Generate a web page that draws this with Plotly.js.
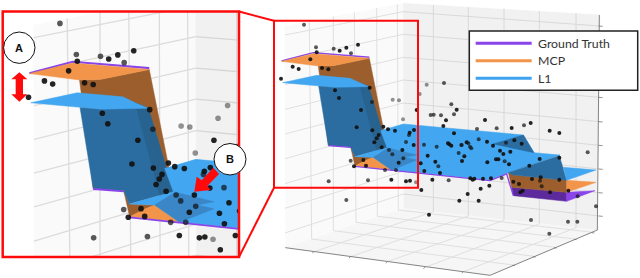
<!DOCTYPE html>
<html>
<head>
<meta charset="utf-8">
<script src="https://cdn.plot.ly/plotly-3.0.0.min.js"></script>
<style>html,body{margin:0;padding:0;background:#fff}#chart{width:640px;height:278px}</style>
</head>
<body>
<div id="chart"></div>
<script>
const darkX = [170,239,259,294,151,98,116,63,186,205,225,237,329,337,290,370,384,405,356,350,343,365,303,449,462,470,590,558,550,582,461,427,416,482,503,526,493,540,564,568,574,613,606,620,681,699,682,708,715,720,730,751,747,785,763,808,839,898,631,638,643,669,693,760,777,816,842,898,925,870,781,788,623,662,688,598,656,394,438,450,517,484,507,282,310,318,675,755,812,869,898];
const darkY = [157,152,143,134,178,200,207,236,204,208,271,294,263,391,382,380,388,392,405,415,427,442,330,398,390,330,329,361,378,400,435,450,488,490,467,485,513,519,430,433,437,469,483,427,425,437,487,478,478,452,462,455,493,431,421,497,477,473,535,539,536,536,535,545,552,537,532,539,572,577,577,572,582,566,557,602,602,539,544,542,539,570,644,499,480,497,360,384,369,392,399];
const midX = [132,168,221,273,336,512,521,543,574,582,552,651,710,792,447,438,492,530,387,397,430,375,408,535,604,625,630,656,596,605,634,738,734,725,840,845,953,983,1008,813,924,952,868,206,324,259,272,566];
const midY = [74,142,146,160,306,345,344,346,313,343,249,387,385,376,405,426,434,440,450,463,475,510,510,499,435,430,440,418,459,435,445,428,484,534,542,559,589,457,619,660,665,665,701,544,541,600,482,541];
const lightX = [398,417,479,500,429,468];
const lightY = [299,301,282,254,358,547];

// Fitted surfaces, outlines in the same plane
const gtTopX = [65,160,328], gtTopY = [183,158,172];
const gtStepX = [205,272], gtStepY = [437,442];
const gtFrontX = [284,395,470,690,742], gtFrontY = [499,511,518,542,521];
const gtWallX = [755,920,920,760], gtWallY = [562,577,604,587];
const gtFlatX = [920,1005,920], gtFlatY = [577,572,604];
const gtEdgeX = [740,760], gtEdgeY = [522,587];

const mcpTopX = [65,160,328,220,175], mcpTopY = [184,161,175,197,198];
const mcpWallX = [175,220,328,370,385,205], mcpWallY = [198,197,175,385,445,436];
const mcpStepX = [272,284,340,320,285], mcpStepY = [441,470,472,480,498];
const mcpLowX = [285,395,340,320], mcpLowY = [498,510,472,480];
const mcpRWallX = [745,760,920,920,755], mcpRWallY = [517,525,541,577,562];
const mcpRFlatX = [920,1008,920], mcpRFlatY = [541,547,577];

const l1TopX = [68,170,270,297,326,223,176], l1TopY = [248,226,235,248,260,262,258];
const l1WallX = [176,223,297,326,381,284,272,205], l1WallY = [258,262,248,260,443,470,441,436];
const l1FaceX = [297,326,381,352], l1FaceY = [248,260,443,455];
const l1SheetX = [362,430,790,822,900,745,690,470,395,340,284,381];
const l1SheetY = [392,372,405,458,465,518,540,517,510,472,470,443];
const l1FoldX = [340,385,470,433,470,395], l1FoldY = [472,444,465,472,480,510];
const l1Wall2X = [700,790,822], l1Wall2Y = [432,405,458];
const l1Wall3X = [745,898,920,760], l1Wall3Y = [518,467,541,525];
const l1RFlatX = [910,1008,920], l1RFlatY = [502,510,541];

// Box of the 3D axes
const leftWallX = [74,430,432,76], leftWallY = [78,10,625,743];
const rightWallX = [430,1020,1012,432], rightWallY = [10,45,690,625];
const floorX = [76,432,1012,690], floorY = [743,625,690,826];
const gridLeftEdge = [105,179,254,328,402,476,551,625,699];
const gridCorner = [35,103,172,240,309,377,445,514,582];
const gridRightEdge = [78,150,221,292,365,436,507,578,648];
const wallVertTopX = [148,220,283,350,412], wallVertTopY = [63,49,37,24,13];
const wallVertBotX = [155,220,288,352,415], wallVertBotY = [717,692,667,649,630];
const rightVertX = [520,625,732,838,948];
const rightVertTopY = [15,21,26,33,39], rightVertBotY = [635,648,661,672,683];
const frontTickX = [162,272,382,495,610], frontTickY = [755,770,785,802,815];
const sideTickX = [760,822,885,945,998], sideTickY = [795,769,742,717,697];

const legendNames = ['Ground Truth','MCP','L1'];
const legendColors = ['#8a45ea','#f2944a','#3fa2ee'];
const legendRows = [130,182,235];

const PURPLE='#8a45ea', DPURPLE='#5c2a9c', ORANGE='#f2944a', BROWN='#9b5e2c', BLUE='#42a6f0', DBLUE='#2b6ca1', DDBLUE='#28628f', FOLD='#3a86c6';
const GRID='#dcdcdc', GRID2='#d6d6d6';

function poly(x,y,color){return {x:x.concat(x[0]),y:y.concat(y[0]),mode:'lines',fill:'toself',fillcolor:color,line:{color:color,width:0.5},showlegend:false,hoverinfo:'skip'};}
function seg(x,y,color,w){return {x:x,y:y,mode:'lines',line:{color:color,width:w},showlegend:false,hoverinfo:'skip'};}
function pts(x,y,op,size){return {x:x,y:y,mode:'markers',marker:{color:'#111',opacity:op,size:size,line:{width:0}},showlegend:false,hoverinfo:'skip'};}

function scene(xa,ya,k,size){
  const t=[];
  t.push(poly(leftWallX,leftWallY,'#fafafa'),poly(rightWallX,rightWallY,'#f1f1f1'),poly(floorX,floorY,'#f6f6f6'));
  gridCorner.forEach((c,i)=>{
    t.push(seg([75,430],[gridLeftEdge[i],c],GRID,k));
    t.push(seg([430,1018],[c,gridRightEdge[i]],GRID2,k));
    t.push(seg([1016,1028],[gridRightEdge[i],gridRightEdge[i]+1],'#777',0.8));
  });
  wallVertTopX.forEach((v,i)=>{
    t.push(seg([v,wallVertBotX[i]],[wallVertTopY[i],wallVertBotY[i]],GRID,k));
    t.push(seg([wallVertBotX[i],sideTickX[i]],[wallVertBotY[i],sideTickY[i]],GRID,k));
    t.push(seg([sideTickX[i]-3,sideTickX[i]+5],[sideTickY[i]+1,sideTickY[i]+2],'#777',0.8));
  });
  rightVertX.forEach((v,i)=>{
    t.push(seg([v,v],[rightVertTopY[i],rightVertBotY[i]],GRID2,k));
    t.push(seg([v,frontTickX[i]],[rightVertBotY[i],frontTickY[i]],GRID,k));
    t.push(seg([frontTickX[i],frontTickX[i]-5],[frontTickY[i],frontTickY[i]+4],'#777',0.8));
  });
  t.push(seg([76,690,1012,1018],[743,826,690,45],'#777',k));
  t.push(poly(gtWallX,gtWallY,DPURPLE),poly(gtFlatX,gtFlatY,PURPLE),seg(gtEdgeX,gtEdgeY,PURPLE,1.5*k));
  t.push(seg(gtTopX,gtTopY,PURPLE,1.6*k));
  t.push(poly(mcpWallX,mcpWallY,BROWN),poly(mcpTopX,mcpTopY,ORANGE));
  t.push(poly(mcpStepX,mcpStepY,BROWN),poly(mcpLowX,mcpLowY,ORANGE));
  t.push(poly(mcpRWallX,mcpRWallY,BROWN),poly(mcpRFlatX,mcpRFlatY,ORANGE));
  t.push(poly(l1WallX,l1WallY,DBLUE),poly(l1FaceX,l1FaceY,DDBLUE),poly(l1TopX,l1TopY,BLUE));
  t.push(poly(l1SheetX,l1SheetY,BLUE),poly(l1FoldX,l1FoldY,FOLD));
  t.push(poly(l1Wall2X,l1Wall2Y,DBLUE),poly(l1Wall3X,l1Wall3Y,DBLUE),poly(l1RFlatX,l1RFlatY,BLUE));
  t.push(seg(gtStepX,gtStepY,PURPLE,1.4*k),seg(gtFrontX,gtFrontY,PURPLE,1.4*k));
  t.push(pts(lightX,lightY,0.45,size),pts(midX,midY,0.7,size),pts(darkX,darkY,0.92,size));
  t.forEach(tr=>{tr.xaxis=xa;tr.yaxis=ya;});
  return t;
}

const data = scene('x','y',0.9,4).concat(scene('x2','y2',1.3,5.6));

const X=p=>3*(p-260), Y=p=>3*p;
const IX=i=>X(i/3), IY=i=>Y(i/3);
function pathOf(pts){return 'M'+pts.map(p=>IX(p[0])+','+IY(p[1])).join('L')+'Z';}
const RED='#ff0a0a';
const doubleArrow=[[58,217],[82,238],[69,238],[69,283],[82,283],[58,305],[34,283],[47,283],[47,238],[34,238]];
const pointer=[[583,575],[590,530],[605,541],[640,503],[657,522],[622,558],[632,570]];
const shapes=[
 {type:'line',x0:X(239),y0:Y(11.5),x1:X(274),y1:Y(20.7),line:{color:RED,width:2}},
 {type:'line',x0:X(239),y0:Y(257),x1:X(274),y1:Y(187.7),line:{color:RED,width:2}},
 {type:'rect',x0:X(274),y0:Y(20.7),x1:X(418),y1:Y(187.7),line:{color:RED,width:2}},
 {type:'rect',x0:X(2.7),y0:Y(11.5),x1:X(239),y1:Y(257),line:{color:RED,width:2.5}},
 {type:'path',path:pathOf(doubleArrow),fillcolor:RED,line:{width:0}},
 {type:'path',path:pathOf(pointer),fillcolor:RED,line:{width:0}},
 {type:'circle',x0:X(3.6),x1:X(35),y0:Y(32),y1:Y(63.4),fillcolor:'#fff',line:{color:'#111',width:1}},
 {type:'circle',x0:X(214),x1:X(246),y0:Y(143.5),y1:Y(175),fillcolor:'#fff',line:{color:'#111',width:1}},
 {type:'rect',x0:X(469.3),x1:X(637.7),y0:Y(31),y1:Y(90.3),fillcolor:'#fff',line:{color:'#222',width:1.5}}
].concat(legendRows.map((r,i)=>({type:'line',x0:647,x1:815,y0:r,y1:r,line:{color:legendColors[i],width:3}})))
 .map(s=>Object.assign({xref:'x',yref:'y',layer:'above'},s));

const layout={
 width:640,height:278,margin:{l:0,r:0,t:0,b:0},paper_bgcolor:'#fff',plot_bgcolor:'rgba(0,0,0,0)',
 hovermode:false,showlegend:false,
 xaxis:{visible:false,range:[-780,1140],domain:[0,1],fixedrange:true},
 yaxis:{visible:false,range:[834,0],domain:[0,1],fixedrange:true},
 xaxis2:{visible:false,range:[7,525],domain:[3/640,239/640],anchor:'y2',fixedrange:true},
 yaxis2:{visible:false,range:[586,49],domain:[1-257/278,1-12/278],anchor:'x2',fixedrange:true},
 shapes:shapes,
 annotations:[
  {text:'<b>A</b>',x:X(19.3),y:Y(47.7),xref:'x',yref:'y',showarrow:false,font:{family:'Liberation Sans',size:11,color:'#111'}},
  {text:'<b>B</b>',x:X(230),y:Y(159.3),xref:'x',yref:'y',showarrow:false,font:{family:'Liberation Sans',size:11,color:'#111'}}
 ].concat(legendNames.map((n,i)=>({text:n,x:829,y:legendRows[i],xref:'x',yref:'y',xanchor:'left',showarrow:false,font:{family:'Lato',size:12.3,color:'#333'}})))
};
Plotly.newPlot('chart',data,layout,{displayModeBar:false,staticPlot:true});
</script>
</body>
</html>
